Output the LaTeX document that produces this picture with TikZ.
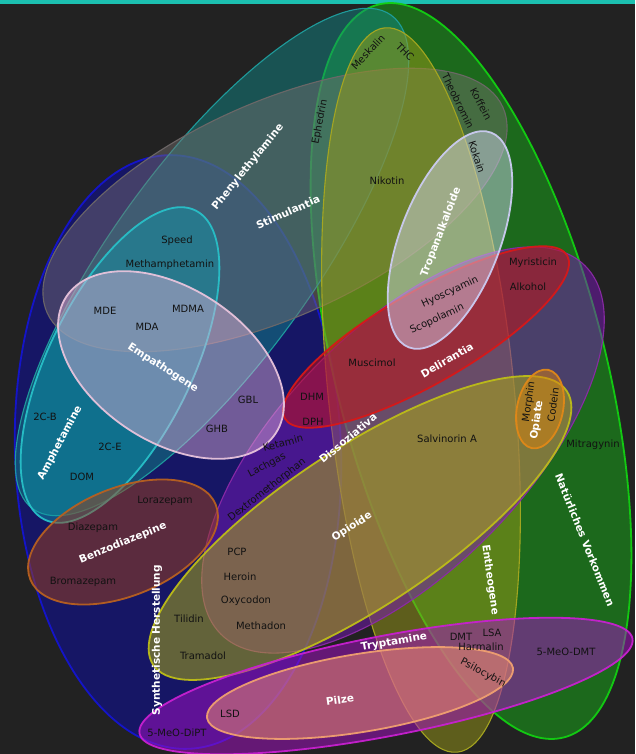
\documentclass[tikz,border=0pt]{standalone}
\usepackage{fontspec}
\setmainfont{DejaVu Sans}
\usetikzlibrary{shapes.geometric}
\definecolor{bg}{HTML}{222222}
\definecolor{stripe}{HTML}{1CC0B0}
\definecolor{synthF}{HTML}{0C0CA8}\definecolor{synthD}{HTML}{1414D0}
\definecolor{naturF}{HTML}{18B018}\definecolor{naturD}{HTML}{12D012}
\definecolor{phenF}{HTML}{128585}\definecolor{phenD}{HTML}{1FA0A0}
\definecolor{stimF}{HTML}{787070}\definecolor{stimD}{HTML}{6E6868}
\definecolor{enthF}{HTML}{9A9A18}\definecolor{enthD}{HTML}{A8A820}
\definecolor{dissF}{HTML}{7818B8}\definecolor{dissD}{HTML}{8C2AA8}
\definecolor{delF}{HTML}{C81010}\definecolor{delD}{HTML}{D81818}
\definecolor{opiodF}{HTML}{B0B010}\definecolor{opiodD}{HTML}{BDBD18}
\definecolor{tryF}{HTML}{A810C8}\definecolor{tryD}{HTML}{C820D0}
\definecolor{pilF}{HTML}{F09070}\definecolor{pilD}{HTML}{F0A070}
\definecolor{ampF}{HTML}{0C9CAC}\definecolor{ampD}{HTML}{28C0C8}
\definecolor{empF}{HTML}{E0B0D8}\definecolor{empD}{HTML}{E8C4DC}
\definecolor{benF}{HTML}{A04018}\definecolor{benD}{HTML}{B86020}
\definecolor{troF}{HTML}{D8DCF8}\definecolor{troD}{HTML}{CCCCF2}
\definecolor{opiF}{HTML}{D88010}\definecolor{opiD}{HTML}{E08818}
\definecolor{itemc}{HTML}{121212}
\tikzset{
  setshape/.style={ellipse, inner sep=0pt, outer sep=0pt, fill opacity=0.5, draw opacity=0.95, line width=1.8pt},
  thinset/.style={setshape, line width=1.1pt},
  item/.style={font=\fontsize{10}{12}\selectfont, text=itemc, inner sep=0pt},
  lbl/.style={font=\bfseries\fontsize{10.5}{12}\selectfont, text=white, inner sep=0pt},
}
\begin{document}
\begin{tikzpicture}[x=1pt,y=-1pt]
\useasboundingbox (0,0) rectangle (635,754);
\fill[bg] (0,0) rectangle (635,754);
\fill[stripe] (0,0) rectangle (635,4);
% sets
\node[setshape, fill=synthF, draw=synthD, minimum width=326pt, minimum height=594pt, rotate=2] (synth) at (178,452) {};
\node[setshape, fill=naturF, draw=naturD, minimum width=756pt, minimum height=270pt, rotate=104.2] (natur) at (471,371) {};
\node[thinset, fill=phenF, draw=phenD, minimum width=610pt, minimum height=200pt, rotate=54] (phenyl) at (212,262) {};
\node[thinset, fill=stimF, draw=stimD, fill opacity=0.45, minimum width=500pt, minimum height=214pt, rotate=24.3] (stim) at (275,210) {};
\node[thinset, fill=enthF, draw=enthD, minimum width=728pt, minimum height=186pt, rotate=95.7] (enth) at (421,390) {};
\node[thinset, fill=dissF, draw=dissD, minimum width=518pt, minimum height=242pt, rotate=45.4] (disso) at (403,450) {};
\node[setshape, fill=delF, draw=delD, minimum width=326pt, minimum height=92pt, rotate=30] (delir) at (426,337) {};
\node[setshape, fill=opiodF, draw=opiodD, minimum width=496pt, minimum height=158pt, rotate=33.5] (opioide) at (360,528) {};
\node[setshape, fill=tryF, draw=tryD, minimum width=502pt, minimum height=100pt, rotate=10.9] (trypt) at (386,686) {};
\node[setshape, fill=pilF, draw=pilD, minimum width=310pt, minimum height=78pt, rotate=9.3] (pilze) at (360,693) {};
\node[setshape, fill=ampF, draw=ampD, fill opacity=0.45, minimum width=344pt, minimum height=144pt, rotate=64] (amph) at (120,365) {};
\node[setshape, fill=empF, draw=empD, fill opacity=0.45, minimum width=250pt, minimum height=154pt, rotate=-33] (empath) at (171,365) {};
\node[setshape, fill=benF, draw=benD, minimum width=200pt, minimum height=108pt, rotate=22] (benzo) at (123,542) {};
\node[setshape, fill=troF, draw=troD, fill opacity=0.45, minimum width=230pt, minimum height=100pt, rotate=69] (tropan) at (450,240) {};
\node[setshape, fill=opiF, draw=opiD, minimum width=80pt, minimum height=46pt, rotate=78] (opiate) at (540,409) {};
% items
\node[item] (speed) at (177,241) {Speed};
\node[item] (meth) at (170,265) {Methamphetamin};
\node[item] (mde) at (105,311) {MDE};
\node[item] (mda) at (147,327) {MDA};
\node[item] (mdma) at (188,309) {MDMA};
\node[item] (gbl) at (248,400) {GBL};
\node[item] (ghb) at (217,429) {GHB};
\node[item] (cb) at (45,417) {2C-B};
\node[item] (ce) at (110,447) {2C-E};
\node[item] (dom) at (82,477) {DOM};
\node[item] (lora) at (165,501) {Lorazepam};
\node[item] (diaz) at (93,528) {Diazepam};
\node[item] (broma) at (83,582) {Bromazepam};
\node[item, rotate=15] (ket) at (283,443) {Ketamin};
\node[item, rotate=28] (lach) at (267,465) {Lachgas};
\node[item, rotate=38] (dxm) at (267,490) {Dextromethorphan};
\node[item] (pcp) at (237,552) {PCP};
\node[item] (her) at (240,577) {Heroin};
\node[item] (oxy) at (246,601) {Oxycodon};
\node[item] (metha) at (261,626) {Methadon};
\node[item] (tili) at (189,619) {Tilidin};
\node[item] (tram) at (203,656) {Tramadol};
\node[item] (lsd) at (230,714) {LSD};
\node[item] (dipt) at (177,733) {5-MeO-DiPT};
\node[item] (dmt) at (461,637) {DMT};
\node[item] (lsa) at (492,633) {LSA};
\node[item] (harm) at (481,647) {Harmalin};
\node[item] (meodmt) at (566,652) {5-MeO-DMT};
\node[item, rotate=-28] (psilo) at (483,673) {Psilocybin};
\node[item] (salv) at (447,439) {Salvinorin A};
\node[item] (mitra) at (593,445) {Mitragynin};
\node[item, rotate=82] (morph) at (529,402) {Morphin};
\node[item, rotate=82] (codein) at (553,405) {Codein};
\node[item] (dhm) at (312,397) {DHM};
\node[item] (dph) at (313,422) {DPH};
\node[item] (musc) at (372,363) {Muscimol};
\node[item] (myri) at (533,263) {Myristicin};
\node[item] (alk) at (528,287) {Alkohol};
\node[item, rotate=25] (hyos) at (450,292) {Hyoscyamin};
\node[item, rotate=25] (scop) at (437,319) {Scopolamin};
\node[item, rotate=-72] (kokain) at (477,157) {Kokain};
\node[item] (nikotin) at (387,181) {Nikotin};
\node[item, rotate=79] (ephedrin) at (320,122) {Ephedrin};
\node[item, rotate=47] (meskalin) at (368,52) {Meskalin};
\node[item, rotate=-45] (thc) at (405,52) {THC};
\node[item, rotate=-64] (theo) at (458,101) {Theobromin};
\node[item, rotate=-62] (koffein) at (481,104) {Koffein};
% labels
\node[lbl, rotate=51] (lphenyl) at (248,167) {Phenylethylamine};
\node[lbl, rotate=24] (lstim) at (288,212) {Stimulantia};
\node[lbl, rotate=69] (ltropan) at (441,232) {Tropanalkaloide};
\node[lbl, rotate=30] (ldelir) at (447,360) {Delirantia};
\node[lbl, rotate=40] (ldisso) at (348,438) {Dissoziativa};
\node[lbl, rotate=82] (lopiate) at (537,420) {Opiate};
\node[lbl, rotate=33] (lopioide) at (352,527) {Opioide};
\node[lbl, rotate=-33] (lempath) at (163,368) {Empathogene};
\node[lbl, rotate=62] (lamph) at (60,443) {Amphetamine};
\node[lbl, rotate=22] (lbenzo) at (123,543) {Benzodiazepine};
\node[lbl, rotate=90] (lsynth) at (157,640) {Synthetische Herstellung};
\node[lbl, rotate=-82] (lenth) at (490,580) {Entheogene};
\node[lbl, rotate=-68] (lnatur) at (585,540) {Natürliches Vorkommen};
\node[lbl, rotate=10] (ltrypt) at (394,642) {Tryptamine};
\node[lbl, rotate=8] (lpilze) at (340,700) {Pilze};
\end{tikzpicture}
\end{document}
